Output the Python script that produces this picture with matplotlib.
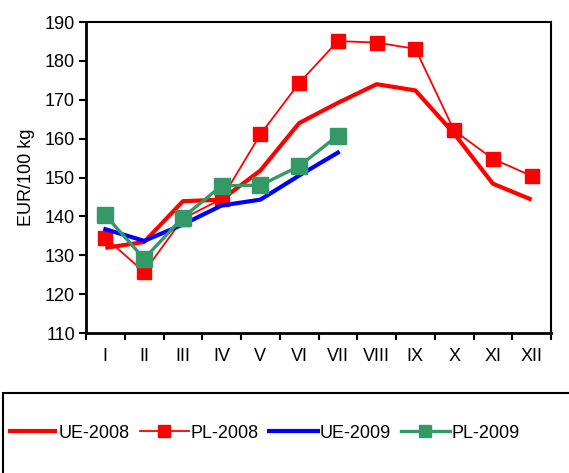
import matplotlib
matplotlib.use("Agg")
import matplotlib.pyplot as plt
from matplotlib.patches import Rectangle

plt.rcParams['font.family'] = ['Liberation Sans', 'DejaVu Sans']

months = ["I", "II", "III", "IV", "V", "VI", "VII", "VIII", "IX", "X", "XI", "XII"]
ue_2008 = [131.9, 133.4, 143.9, 144.3, 151.8, 164.0, 169.2, 174.0, 172.4, 161.3, 148.4, 144.3]
pl_2008 = [134.5, 125.7, 139.4, 144.5, 161.1, 174.3, 185.1, 184.7, 183.1, 162.1, 154.8, 150.4]
ue_2009 = [136.7, 133.7, 137.9, 142.8, 144.3, 150.5, 156.4]
pl_2009 = [140.3, 129.1, 139.7, 147.9, 148.0, 152.9, 160.8]
yticks = [110, 120, 130, 140, 150, 160, 170, 180, 190]

W, H = 569, 473
FS = 13
fig = plt.figure(figsize=(W / 100, H / 100), dpi=100)
ax = fig.add_axes([86 / W, 1 - 333 / H, (551 - 86) / W, (333 - 22) / H])

x12 = list(range(len(months)))
l1, = ax.plot(x12, ue_2008, color='#FF0000', lw=3.0, label='UE-2008', solid_capstyle='butt')
l2, = ax.plot(x12, pl_2008, color='#FF0000', lw=1.3, marker='s', ms=9.5, label='PL-2008')
x7 = list(range(len(ue_2009)))
l3, = ax.plot(x7, ue_2009, color='#0000FF', lw=3.0, label='UE-2009')
l4, = ax.plot(x7, pl_2009, color='#339966', lw=2.4, marker='s', ms=11, label='PL-2009')

ax.set_xlim(-0.5, 11.5)
ax.set_ylim(110, 190)
ax.set_yticks(yticks)
ax.set_xticks([i + 0.5 for i in range(-1, 12)], minor=False)
ax.set_xticklabels([])
ax.set_xticks(x12, minor=True)
ax.set_xticklabels(months, minor=True)
ax.tick_params(axis='x', which='major', direction='out', length=5, width=1.5)
ax.tick_params(axis='x', which='minor', length=0, pad=11, labelsize=FS)
ax.tick_params(axis='y', direction='out', length=5, width=1.5, labelsize=FS, pad=3)
for s in ['left', 'bottom']:
    ax.spines[s].set_linewidth(2.0)
for s in ['top', 'right']:
    ax.spines[s].set_linewidth(1.5)
ax.set_ylabel('EUR/100 kg', fontsize=FS, labelpad=7)

fig.patches.append(Rectangle((3 / W, -0.1), 1.0, 1 - 393 / H + 0.1, transform=fig.transFigure,
                             fill=False, edgecolor='black', lw=1.5))
leg = fig.legend(handles=[l1, l2, l3, l4], loc='center left', bbox_to_anchor=(8 / W, 1 - 433 / H),
                 ncol=4, frameon=False, fontsize=FS, handlelength=2.7, handletextpad=0.12,
                 columnspacing=0.55, borderaxespad=0, borderpad=0, markerscale=0.85)

fig.savefig('out.png', dpi=100)
